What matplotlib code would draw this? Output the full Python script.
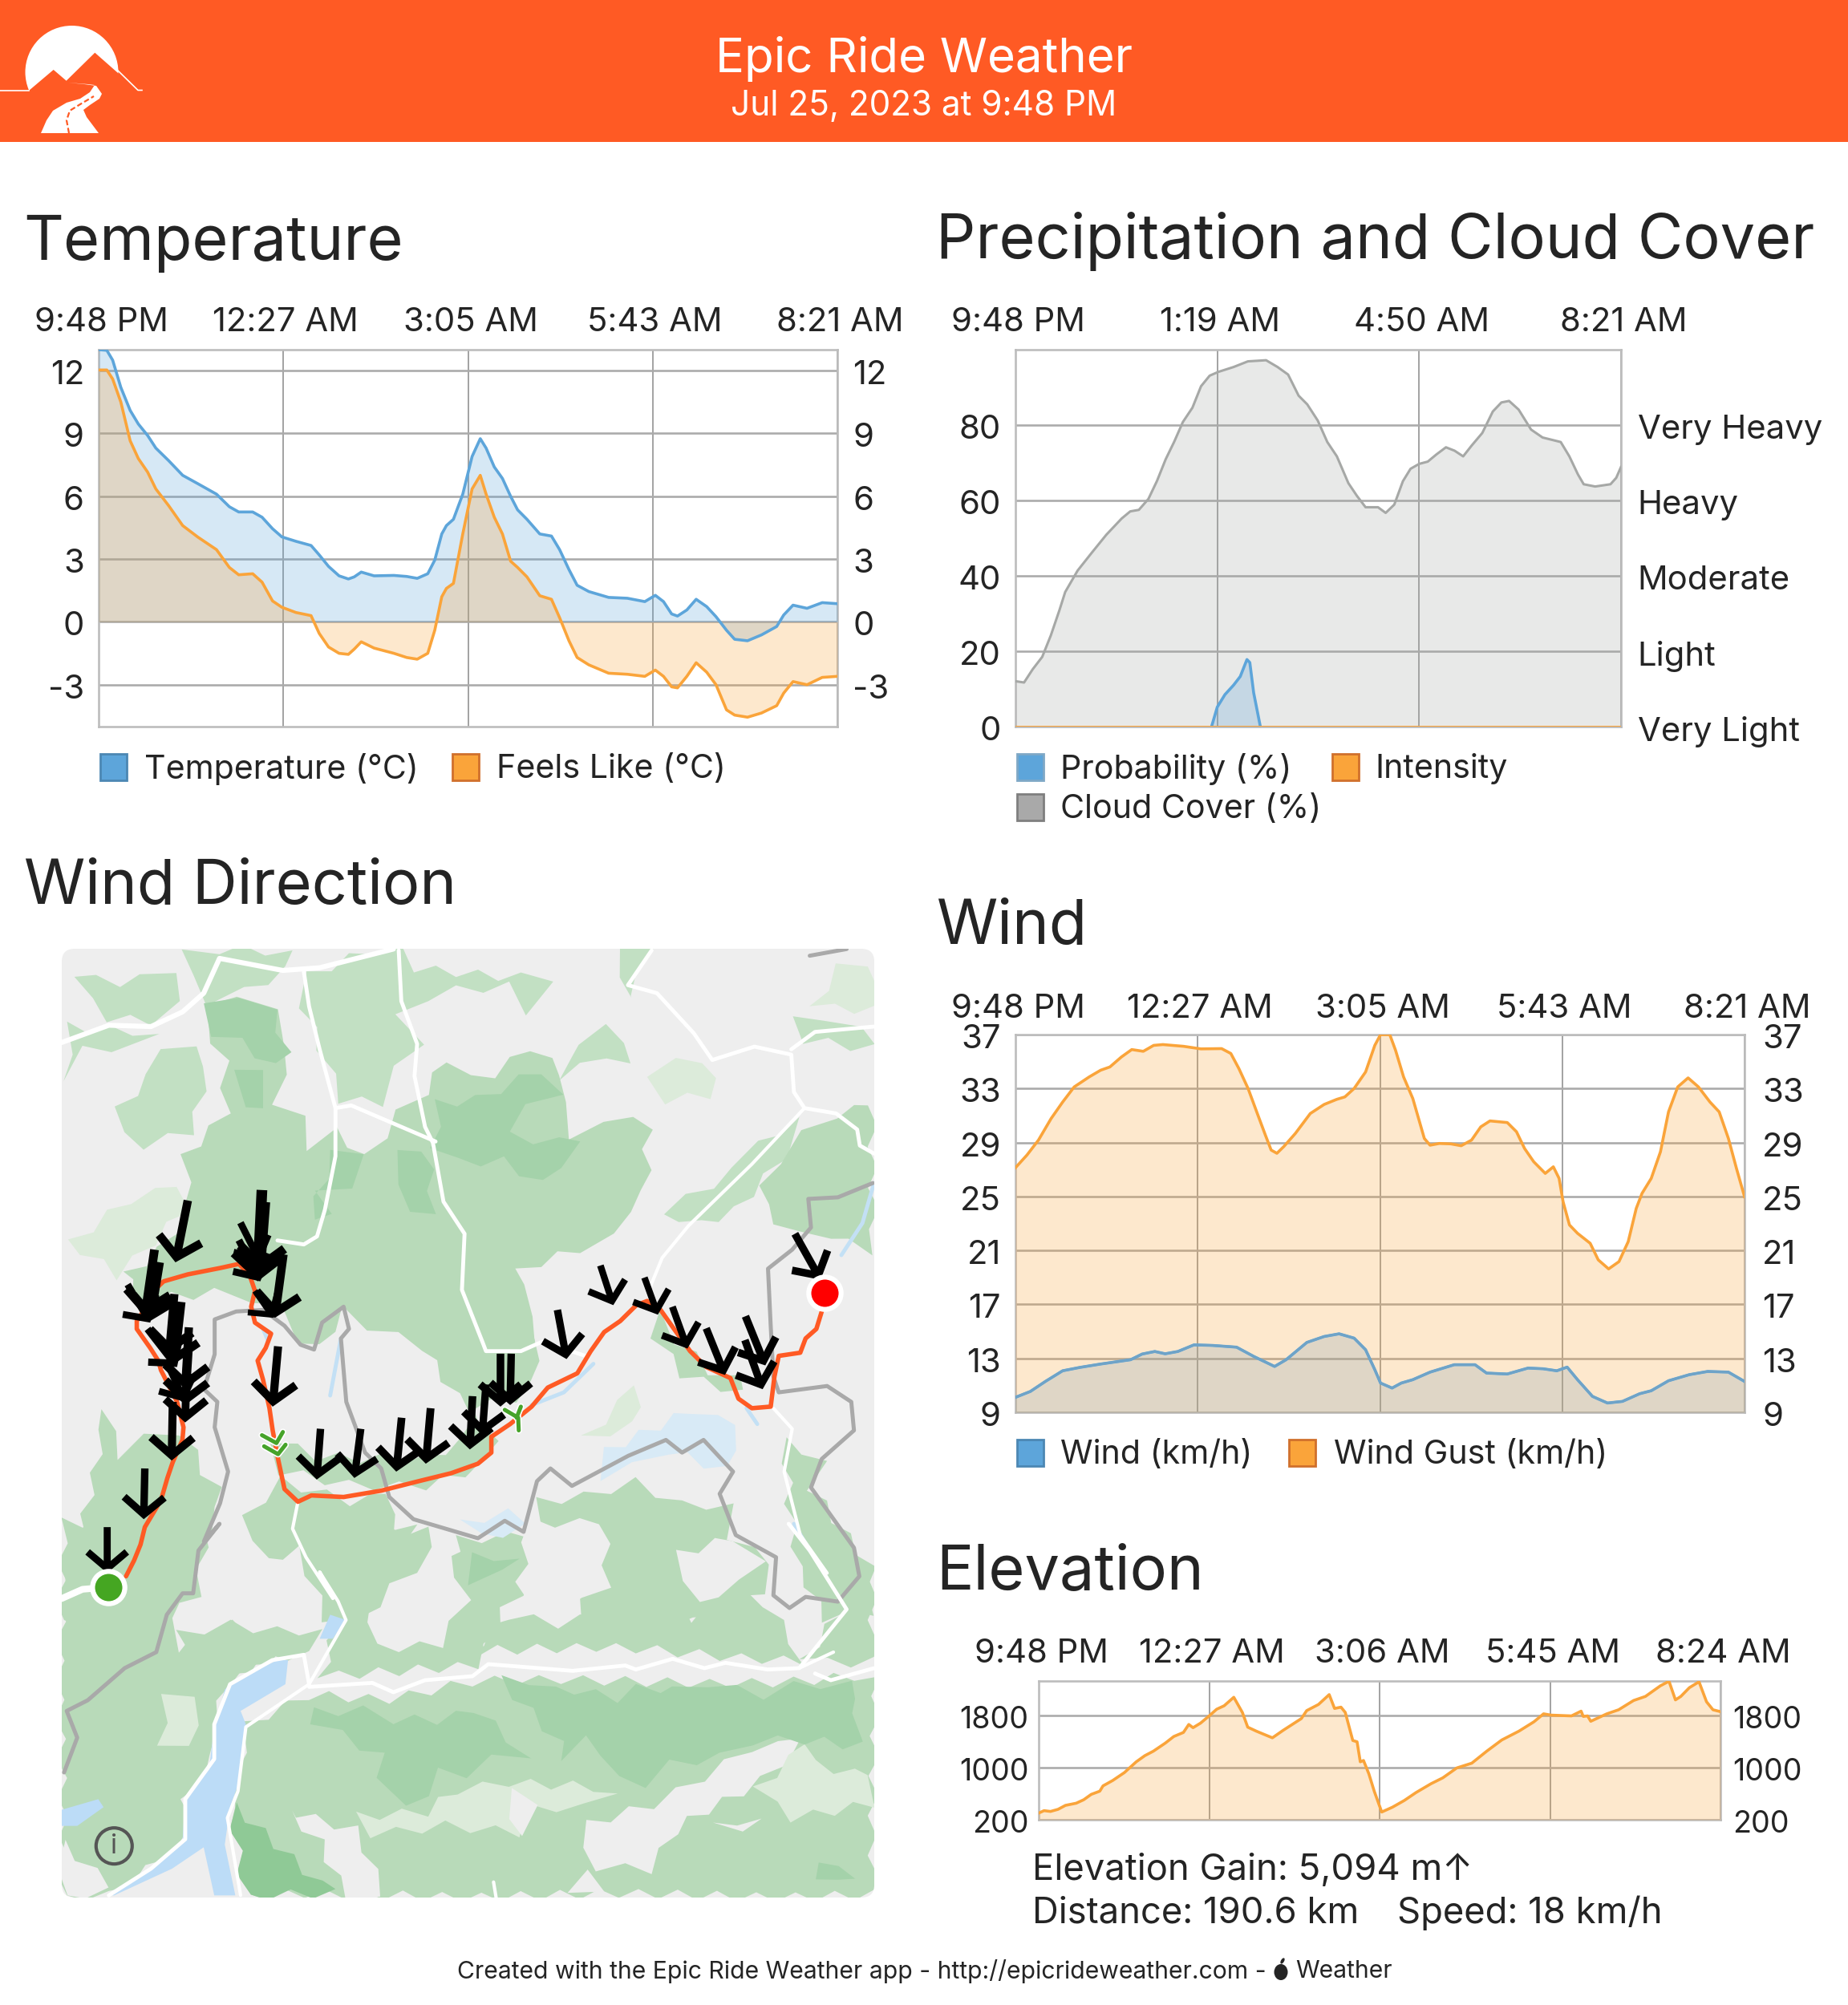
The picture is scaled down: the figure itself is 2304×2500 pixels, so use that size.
import math
import matplotlib
matplotlib.use("Agg")
import matplotlib.pyplot as plt
from matplotlib.patches import Polygon, Rectangle, Circle, Ellipse, FancyBboxPatch
from matplotlib.textpath import TextPath
from matplotlib.font_manager import FontProperties
from matplotlib.transforms import ScaledTranslation

W, H = 2304, 2500
FONT = ['Inter', 'DejaVu Sans']
plt.rcParams['font.family'] = FONT
plt.rcParams['axes.unicode_minus'] = False
TXT = '#242424'
BLUE, ORANGE, GREY = '#5DA5DA', '#FAA43A', '#A6A8A6'

# ---------- data ----------
temp_t = [0,7,12,19,27,34,42,49,60,72,85,101,112,120,132,140,149,157,169,182,189,197,206,214,219,225,236,253,264,273,282,288,294,298,304,312,320,327,332,339,346,353,359,367,378,388,395,403,410,420,437,453,468,477,484,491,496,504,512,521,529,538,545,556,568,581,587,595,607,620,633]
temp_v = [13.0,12.97,12.5,11.2,10.1,9.45,8.9,8.3,7.7,7.0,6.6,6.1,5.5,5.25,5.25,5.0,4.45,4.06,3.85,3.65,3.2,2.65,2.2,2.05,2.15,2.38,2.2,2.22,2.17,2.08,2.3,2.95,4.2,4.6,4.9,6.1,7.9,8.75,8.3,7.4,6.85,6.0,5.35,4.9,4.2,4.1,3.45,2.5,1.75,1.45,1.17,1.13,0.97,1.27,0.97,0.38,0.28,0.57,1.08,0.73,0.25,-0.4,-0.83,-0.9,-0.62,-0.22,0.33,0.8,0.65,0.92,0.87]
feels_v = [12.03,12.03,11.6,10.5,8.65,7.8,7.15,6.35,5.55,4.6,4.05,3.45,2.6,2.25,2.3,1.9,1.0,0.7,0.45,0.3,-0.55,-1.2,-1.5,-1.55,-1.3,-0.95,-1.25,-1.5,-1.7,-1.78,-1.5,-0.4,1.2,1.6,1.84,4.2,6.35,7.0,6.1,5.0,4.2,2.9,2.6,2.15,1.25,1.08,0.2,-0.9,-1.7,-2.05,-2.45,-2.5,-2.6,-2.3,-2.6,-3.1,-3.15,-2.6,-1.95,-2.4,-3.0,-4.2,-4.45,-4.55,-4.35,-4.0,-3.4,-2.85,-3.0,-2.65,-2.6]

cloud_t = [0,9,18,28,37,46,52,65,80,95,111,120,129,139,148,157,166,175,185,194,203,212,228,243,262,274,285,296,305,316,326,336,348,357,366,379,387,396,405,413,422,431,440,450,459,468,477,488,499,508,516,526,539,551,570,579,588,594,606,622,628,633]
cloud_v = [12.05,11.7,15.2,18.5,24.2,30.9,35.7,41.4,46.2,50.9,55.2,57.1,57.5,60.4,65.2,70.9,75.6,80.8,84.6,90.3,93.1,94.1,95.4,96.9,97.2,95.4,93.4,87.8,85.5,81.2,75.5,71.7,64.6,61.2,58.2,58.2,56.7,58.9,65.1,68.4,69.7,70.3,72.2,74.1,73.2,71.7,74.6,77.9,83.6,86.0,86.4,84.1,78.8,76.7,75.5,71.7,66.9,64.3,63.7,64.3,66.0,68.9]
prob_t = [205,211,219,228,235,242,245,249,256]
prob_v = [0,5.2,8.5,11,13.3,17.8,17,9,0]
intensity_t = [0,633]
intensity_v = [0,0]

gust_t = [0,10,20,31,41,51,64,74,82,92,101,111,120,128,146,161,179,187,194,202,210,217,222,227,233,243,256,268,279,286,294,304,312,317,325,330,337,345,350,355,360,368,378,387,396,404,412,427,435,442,450,460,467,472,475.5,481,488,499,506,515,524,532,539,544,552,560,567,575,584,593,603,611,619,626,633]
gust_v = [27.13,28.07,29.18,30.78,32.0,33.12,33.86,34.36,34.6,35.34,35.89,35.76,36.2,36.26,36.13,35.94,35.96,35.6,34.48,33.0,31.15,29.55,28.44,28.2,28.7,29.67,31.15,31.82,32.2,32.38,33.0,34.23,36.2,37,37,35.84,33.86,32.26,30.78,29.3,28.8,28.93,28.9,28.76,29.18,30.16,30.6,30.48,29.8,28.56,27.57,26.71,27.2,26.34,24.6,22.89,22.27,21.53,20.3,19.63,20.17,21.65,24.12,25.23,26.34,28.31,31.27,33.12,33.79,33.12,32.0,31.27,29.3,27.08,24.98]
wind_t = [0,13,26,41,56,74,100,110,121,130,141,155,171,192,207,225,235,253,268,281,294,304,312,317,327,335,345,360,381,399,409,427,445,458,470,479,488,501,514,527,542,552,567,585,601,619,633]
wind_v = [10.11,10.55,11.29,12.08,12.33,12.58,12.9,13.32,13.51,13.34,13.51,14.0,13.96,13.83,13.14,12.4,12.9,14.18,14.62,14.82,14.5,13.64,12.16,11.17,10.8,11.17,11.42,11.98,12.53,12.53,11.91,11.84,12.28,12.23,12.08,12.35,11.42,10.18,9.69,9.81,10.38,10.6,11.34,11.79,12.03,11.98,11.29]

elev_t = [0,5,11,18,25,35,42,49,57,60,69,80,91,99,107,118,126,135,140,144,151,159,166,173,182,190,195,203,209,218,228,245,250,261,271,276,282,286,293,297,300,303,308,313,320,330,341,352,366,377,390,404,418,432,448,462,471,478,497,506,508,512,515,530,541,555,566,580,588,594,599,607,616,623,629,636]
elev_v = [302,339,327,359,420,453,506,588,637,718,800,922,1086,1180,1249,1371,1473,1535,1657,1608,1678,1788,1890,1943,2073,1841,1616,1555,1514,1453,1567,1747,1869,1963,2114,1902,1922,1841,1412,1392,1086,1106,902,637,318,392,494,616,751,841,992,1065,1249,1420,1555,1698,1820,1800,1788,1861,1780,1788,1706,1820,1882,2024,2086,2249,2318,2033,2086,2220,2310,2004,1882,1853]

ride_ticks = [0,158.25,316.5,474.75,633]
ride_labels = ['9:48 PM','12:27 AM','3:05 AM','5:43 AM','8:21 AM']
precip_ticks = [0,211,422,633]
precip_labels = ['9:48 PM','1:19 AM','4:50 AM','8:21 AM']
elev_ticks = [0,159,318,477,636]
elev_labels = ['9:48 PM','12:27 AM','3:06 AM','5:45 AM','8:24 AM']
temp_yticks = [-3,0,3,6,9,12]
precip_yticks = [0,20,40,60,80]
intensity_labels = ['Very Light','Light','Moderate','Heavy','Very Heavy']
wind_yticks = [9,13,17,21,25,29,33,37]
elev_yticks = [200,1000,1800]

# map route and arrows, in the frame of the map crop
route5 = [(145,1430),(160,1380),(172,1330),(180,1275),(210,1190),(222,1120),(232,1070),(250,1000),(252,960),(240,880),(225,830),(210,780),(205,750),(190,710),(165,650),(165,625),(175,600),(190,540),(215,500),(260,478),(320,458),(355,445),(375,480),(385,530),(378,580),(385,630),(415,665),(405,710),(390,750),(400,810),(412,900),(418,970),(428,1060),(440,1155),(465,1195),(490,1175),(550,1180),(620,1160),(690,1130),(750,1105),(800,1075),(825,1040),(825,990),(860,950),(900,895),(930,835),(985,790),(1010,720),(1035,660),(1065,625),(1095,575),(1115,562),(1140,590),(1165,650),(1195,720),(1225,770),(1270,805),(1285,870),(1310,900),(1345,895),(1352,800),(1360,735),(1400,725),(1410,680),(1430,650),(1440,595)]
wind_arrows5 = [((110,1275),(110,1420)),((180,1090),(178,1250)),((232,880),(230,1065)),((258,770),(255,945)),((262,645),(255,840)),((248,565),(235,760)),((235,540),(225,730)),((185,650),(240,770)),((262,700),(255,890)),((222,760),(255,880)),((198,400),(180,610)),((208,440),(190,625)),((148,510),(190,630)),((260,245),(237,440)),((398,212),(390,500)),((405,250),(395,470)),((358,315),(395,440)),((355,370),(395,500)),((438,415),(422,615)),((385,530),(420,615)),((428,705),(418,895)),((507,965),(500,1125)),((582,965),(570,1120)),((658,930),(648,1100)),((712,900),(703,1075)),((790,862),(785,1030)),((815,825),(808,985)),((842,728),(842,895)),((862,728),(860,890)),((948,590),(965,745)),((1028,450),(1052,575)),((1110,488),(1135,605)),((1162,580),(1190,712)),((1225,648),(1260,795)),((1298,610),(1335,765)),((1297,685),(1330,840)),((1390,350),(1438,495))]
start5 = (112,1465)
end5 = (1445,535)

# ---------- helpers ----------
def f5(p): return [(60+x/1.493, 1400+y/2.529) for x, y in p]
def f7(p): return [(70+x/1.522, 1175+y/3) for x, y in p]
def f8(p): return [(70+x/1.522, 1900+y/3) for x, y in p]

def jag(pts, step=24, amp=8):
    """Give a land-cover outline the toothed edge of the map's terrain tiles."""
    out = []
    k = 0
    for (x0, y0), (x1, y1) in zip(pts, pts[1:] + pts[:1]):
        d = math.hypot(x1-x0, y1-y0)
        n = max(1, int(d / step))
        nx, ny = (y1-y0)/(d or 1), (x0-x1)/(d or 1)
        for i in range(n):
            k += 1
            a = amp * (0.35 + 0.65*abs(math.sin(k*1.37))) * (1 if k % 2 else -1)
            u = i / n
            out.append((x0+(x1-x0)*u+nx*a, y0+(y1-y0)*u+ny*a))
    return out

def fit(text, width_px):
    tp = TextPath((0, 0), text, size=100, prop=FontProperties(family=FONT))
    return 100 * width_px / tp.get_extents().width * 0.72

fig = plt.figure(figsize=(W/100, H/100), dpi=100, facecolor='white')

page = fig.add_axes([0, 0, 1, 1], zorder=0)
page.set_xlim(0, W); page.set_ylim(H, 0); page.axis('off')

FS_TITLE = fit('Temperature', 466)
FS_AXIS = fit('9:48 PM', 161)
FS_LEG = fit('Temperature (°C)', 336)
FS_INFO = fit('Distance: 190.6 km', 400)
FS_FOOT = fit('Created with the Epic Ride Weather app - http://epicrideweather.com -', 1005)

# header
page.add_patch(Rectangle((0, 0), W, 177, fc='#FF5A24', ec='none'))
page.text(1152, 73, 'Epic Ride Weather', color='white', ha='center', va='center', fontsize=fit('Epic Ride Weather', 514))
page.text(1152, 133, 'Jul 25, 2023 at 9:48 PM', color='white', ha='center', va='center', fontsize=fit('Jul 25, 2023 at 9:48 PM', 476))
# logo
page.add_patch(Circle((89.5, 90), 58, fc='white', ec='none'))
page.add_patch(Polygon([(0,113.5),(36,113),(66.7,87),(82.7,100.7),(118.3,65.7),(172,113),(172,176),(0,176)], fc='#FF5A24', ec='none'))
page.plot([0,36],[112.5,112.5], color='white', lw=1.2)
page.plot([147,172,177],[88,112.5,112.5], color='white', lw=1.2)
page.add_patch(Polygon([(51,166),(58,150),(66,138),(83,128),(100,123),(112,115),(118,106),(110,105),(85,103),(105,105),(120,107),(127,117),(124,123),(112,131),(104,137),(108,146),(123,166)], fc='white', ec='none'))
page.plot([86,83,87,100,117],[166,150,138,130,120], color='#FF5A24', lw=1.6, ls=(0,(3,1.5)))

# section titles
for s, x, y in [('Temperature',29,304),('Precipitation and Cloud Cover',1167,301),('Wind Direction',30,1106),('Wind',1167,1156),('Elevation',1167,1961)]:
    page.text(x, y, s, fontsize=FS_TITLE, color=TXT, ha='left', va='center')

def chart(l, t, r, b, xlim, ylim, xticks, xlabels, yticks, rlabels=None, ypadl=13, ypadr=14, xpad=10.5, ysize=None):
    ysize = ysize or FS_AXIS
    ax = fig.add_axes([l/W, 1-b/H, (r-l)/W, (b-t)/H], zorder=2)
    ax.set_xlim(*xlim); ax.set_ylim(*ylim)
    ax.set_xticks(xticks); ax.set_xticklabels(xlabels)
    ax.set_yticks(yticks)
    ax.tick_params(axis='x', which='both', bottom=False, top=True, labelbottom=False, labeltop=True, length=0, pad=xpad, labelsize=FS_AXIS, labelcolor=TXT)
    ax.tick_params(axis='y', length=0, pad=ypadl, labelsize=ysize, labelcolor=TXT)
    ax.grid(axis='y', color='#ababab', lw=1.9, zorder=0)
    ax.grid(axis='x', color='#929292', lw=1.2, zorder=0)
    ax.set_axisbelow(True)
    for sp in ax.spines.values():
        sp.set_color('#bdbdbd'); sp.set_linewidth(1.9); sp.set_zorder(1)
    rx = ax.twinx()
    rx.set_ylim(*ylim); rx.set_yticks(yticks)
    if rlabels: rx.set_yticklabels(rlabels)
    rx.tick_params(axis='y', length=0, pad=ypadr, labelsize=ysize, labelcolor=TXT)
    for sp in rx.spines.values():
        sp.set_visible(False)
    down = ScaledTranslation(0, -2/100, fig.dpi_scale_trans)
    for lab in ax.get_yticklabels() + rx.get_yticklabels():
        lab.set_transform(lab.get_transform() + down)
    right = ScaledTranslation(3/100, 0, fig.dpi_scale_trans)
    for lab in ax.get_xticklabels():
        lab.set_transform(lab.get_transform() + right)
    return ax

def series(ax, t, v, base, col, lw=2.6, alpha=0.25):
    ax.fill_between(t, v, base, color=col, alpha=alpha, lw=0, zorder=2)
    ax.plot(t, v, color=col, lw=lw, zorder=3, solid_joinstyle='round')

def legend(entries):
    for s, col, edge, x, y, tx in entries:
        page.add_patch(Rectangle((x+1.5, y+1.5), 33, 33, fc=col, ec=edge, lw=2))
        page.text(tx, y+21, s, fontsize=FS_LEG, color=TXT, ha='left', va='center')

# temperature
ax = chart(123, 436, 1044, 906, (0,633), (-5,13), ride_ticks, ride_labels, temp_yticks)
series(ax, temp_t, temp_v, 0, BLUE)
series(ax, temp_t, feels_v, 0, ORANGE)
legend([('Temperature (°C)', BLUE, '#4C87B3', 123, 938, 180), ('Feels Like (°C)', ORANGE, '#D0702C', 562, 938, 619)])

# precipitation
ax = chart(1266, 436, 2021, 906, (0,633), (0,100), precip_ticks, precip_labels, precip_yticks, intensity_labels, ypadr=15, ysize=FS_AXIS)
series(ax, cloud_t, cloud_v, 0, GREY, lw=2.2)
series(ax, prob_t, prob_v, 0, BLUE)
ax.plot(intensity_t, intensity_v, color=ORANGE, lw=2.2, zorder=4)
legend([('Probability (%)', BLUE, '#7FA8C6', 1266, 938, 1322), ('Intensity', ORANGE, '#D0702C', 1659, 938, 1714), ('Cloud Cover (%)', '#A9A9A9', '#7F7F7F', 1266, 988, 1322)])

# wind
ax = chart(1266, 1290, 2175, 1761, (0,633), (9,37), ride_ticks, ride_labels, wind_yticks, ypadr=16, xpad=9.5)
series(ax, wind_t, wind_v, 9, '#5DA5DA')
series(ax, gust_t, gust_v, 9, ORANGE)
ax.plot(wind_t, wind_v, color='#6FA3C7', lw=2.2, zorder=4)
legend([('Wind (km/h)', BLUE, '#4C87B3', 1266, 1793, 1322), ('Wind Gust (km/h)', ORANGE, '#D0702C', 1605, 1793, 1663)])

# elevation
ax = chart(1295, 2096, 2145, 2269, (0,636), (200,2322), elev_ticks, elev_labels, elev_yticks, ypadl=9, ypadr=11, xpad=11, ysize=FS_AXIS*0.9)
series(ax, elev_t, elev_v, 200, ORANGE, lw=2.6)

page.text(1287, 2332, 'Elevation Gain: 5,094 m↑', fontsize=FS_INFO, color=TXT, ha='left', va='center')
page.text(1287, 2385, 'Distance: 190.6 km', fontsize=FS_INFO, color=TXT, ha='left', va='center')
page.text(1742, 2385, 'Speed: 18 km/h', fontsize=FS_INFO, color=TXT, ha='left', va='center')

# footer
page.text(570, 2458, 'Created with the Epic Ride Weather app - http://epicrideweather.com -', fontsize=FS_FOOT, color=TXT, ha='left', va='center')
page.add_patch(Ellipse((1597, 2459), 17, 20, fc=TXT, ec='none'))
page.add_patch(Ellipse((1599, 2445), 4, 8, angle=30, fc=TXT, ec='none'))
page.text(1615, 2458, 'Weather', fontsize=FS_FOOT, color=TXT, ha='left', va='center')

# ---------- map ----------
m = fig.add_axes([77/W, 1-2366/H, (1090-77)/W, (2366-1183)/H], zorder=2)
m.set_xlim(77, 1090); m.set_ylim(2366, 1183); m.axis('off')
clipbox = FancyBboxPatch((77+16, 1183+16), 1013-32, 1183-32, boxstyle='round,pad=16', fc='#EEEEEE', ec='none', transform=m.transData)
m.add_patch(clipbox)

MID, LIGHT, PALE, DARK, DEEP = '#B8DAB9', '#C2E0C3', '#DCEBDA', '#A4D2AA', '#8FC996'
LAND = '#EEEEEE'
WATER = '#BCDCF7'
SNOW = '#D8EAF6'

polys = [
 # upper light patches
 (f7([(40,150),(80,110),(130,180),(160,100),(220,120),(240,240),(180,300),(100,290),(60,220)]), LIGHT),
 (f7([(240,50),(310,30),(440,30),(440,110),(360,190),(290,230),(250,130)]), LIGHT),
 (f7([(480,130),(600,25),(650,25),(680,90),(880,130),(950,160),(900,260),(860,160),(760,170),(700,200),(650,260),(690,370),(650,470),(620,600),(540,600),(500,400),(470,250)]), LIGHT),
 (f7([(20,320),(100,330),(190,330),(150,400),(60,400),(20,520)]), LIGHT),
 (f7([(120,630),(180,500),(200,380),(260,400),(290,470),(270,640),(260,710),(170,760),(120,710)]), LIGHT),
 (f7([(1070,30),(1140,30),(1090,120),(1110,270),(1080,210),(1075,130)]), LIGHT),
 (f7([(1400,300),(1460,280),(1520,330),(1552,400),(1420,370),(1400,350)]), LIGHT),
 (f7([(1340,760),(1400,660),(1410,720),(1350,880),(1290,1010),(1220,1060),(1150,1000),(1200,960),(1290,860)]), LIGHT),
 (f7([(1000,400),(1050,300),(1085,470),(1040,420),(960,520),(980,400)]), LIGHT),
 (f7([(30,1130),(140,960),(240,910),(250,1000),(120,1250),(50,1150)]), PALE),
 (f7([(1130,520),(1180,420),(1260,520),(1240,570),(1160,600)]), PALE),
 (f7([(1440,250),(1480,100),(1550,90),(1552,260)]), PALE),
 # big forest
 (f7([(135,1250),(200,1150),(250,1000),(240,800),(320,640),(320,450),(285,290),(345,195),(410,260),(440,390),(415,590),(465,650),(470,760),(530,700),(590,800),(650,640),(700,560),(745,440),(790,520),(830,500),(905,395),(965,500),(960,600),(970,715),(1040,680),(1105,640),(1125,700),(1120,850),(1115,940),(1080,1000),(1060,1100),(990,1140),(880,1220),(880,1290),(915,1400),(915,1500)]) +
  f5([(915,670),(905,830),(870,870),(790,900),(760,860),(700,700),(600,640),(555,585),(500,715),(470,690),(430,590),(380,560),(310,540),(150,560),(150,480)]), MID),
 (f7([(1345,920),(1370,820),(1420,720),(1480,640),(1552,610),(1552,1150),(1500,1120),(1470,1085),(1410,1090),(1370,1040),(1345,980)]), MID),
 # forest shading
 (f7([(285,250),(350,195),(410,260),(440,400),(410,470),(350,380),(300,350)]), DARK),
 (f7([(720,610),(800,590),(880,510),(930,480),(960,560),(900,620),(860,720),(1000,760),(950,830),(920,900),(850,810),(760,820),(720,770)]), DARK),
 (f7([(340,500),(400,480),(390,600),(350,620)]), DARK),
 (f7([(520,800),(590,800),(560,900),(500,920),(520,1000),(480,1030)]), DARK),
 (f7([(650,800),(700,780),(720,1000),(660,1010)]), DARK),
 # middle zone
 (f5([(180,1000),(250,980),(290,1100),(315,1150),(320,1220),(280,1350),(240,1500),(220,1568),(25,1568),(25,1440),(60,1300),(90,1040),(110,900),(125,1050)]), MID),
 (f5([(400,1000),(430,1100),(560,1140),(700,1140),(810,1080),(830,1010),(790,860),(770,1000),(700,1060),(500,1060),(420,1000)]), MID),
 (f5([(370,1250),(430,1130),(560,1190),(640,1170),(640,1300),(700,1280),(720,1350),(640,1460),(580,1568),(520,1568),(470,1350),(400,1380)]), MID),
 (f5([(760,1320),(900,1300),(930,1400),(860,1470),(800,1460)]), MID),
 (f5([(1130,600),(1170,690),(1230,780),(1280,800),(1290,860),(1180,800),(1130,680)]), MID),
 (f5([(910,1200),(1000,1180),(1090,1130),(1180,1200),(1270,1200),(1270,1300),(1350,1400),(1330,1470),(1200,1568),(1000,1568),(960,1450),(900,1400)]), MID),
 (f5([(1370,1010),(1440,1060),(1420,1150),(1490,1300),(1535,1400),(1535,1540),(1450,1568),(1400,1400),(1380,1200)]), MID),
 (f5([(1000,1000),(1100,830),(1090,960)]), PALE),
 # lower map
 (f8([(10,0),(290,0),(270,260),(210,360),(230,470),(330,380),(440,470),(400,510),(330,590),(300,750),(300,880),(245,1030),(245,1180),(100,1390),(10,1390)]), MID),
 (f8([(230,420),(330,380),(420,400),(500,390),(480,500),(400,500),(330,580),(260,530)]), MID),
 (f8([(460,0),(680,0),(660,170),(590,260),(610,470),(730,460),(780,290),(750,100),(920,90),(940,130),(850,320),(800,520),(500,580),(540,300),(500,180)]), MID),
 (f8([(780,500),(860,340),(950,370),(1040,330),(1080,100),(1120,30),(1270,30),(1270,60),(1180,110),(1150,220),(1200,350),(1300,250),(1350,300),(1420,510),(1100,470),(800,470)]), MID),
 (f8([(1420,520),(1490,320),(1552,200),(1552,520)]), MID),
 (f8([(360,760),(480,640),(630,650),(790,590),(1000,590),(1400,590),(1552,570),(1552,1390),(360,1390),(335,1060),(350,950)]), MID),
 (f8([(1010,1130),(1130,1050),(1180,1000),(1270,890),(1320,830),(1420,820),(1340,960),(1300,1000),(1200,1100),(1170,1150),(1130,1290),(1030,1290),(990,1200)]), LAND),
 (f8([(440,1090),(500,1190),(550,1390),(620,1390),(600,1300),(570,1150),(450,1080)]), LAND),
 (f8([(570,1100),(700,1080),(760,990),(860,960),(1060,990),(1000,1060),(900,1050),(880,1150),(740,1130),(600,1170)]), PALE),
 (f8([(860,1010),(920,1060),(890,1150),(850,1100)]), LAND),
 (f8([(1250,1140),(1330,1090),(1300,1170)]), LAND),
 (f8([(1330,1000),(1430,820),(1440,900),(1552,940),(1552,1050),(1400,1100)]), PALE),
 (f8([(1000,1310),(1040,1390),(980,1390)]), LAND),
 (f8([(200,660),(270,650),(250,850),(200,830)]), PALE),
 (f8([(10,1200),(70,1300),(100,1380),(10,1390)]), LAND),
 (f8([(900,0),(1040,0),(1050,230),(1000,300),(900,340),(880,220)]), LAND),
 (f8([(1180,120),(1290,50),(1340,130),(1300,230),(1210,300)]), LAND),
 (f8([(845,590),(900,590),(950,630),(985,620),(1060,650),(1100,610),(1150,610),(1170,620),(1240,590),(1290,620),(1340,640),(1400,610),(1500,600),(1520,660),(1500,720),(1530,830),(1420,810),(1320,820),(1260,880),(1170,900),(1120,970),(1060,950),(1040,850),(1010,800),(970,880),(960,820),(930,760),(900,700)]), DARK),
 (f8([(490,710),(580,700),(640,730),(720,730),(800,690),(860,800),(900,860),(830,880),(780,930),(730,920),(700,1000),(660,1060),(620,950),(620,870),(540,790),(490,750)]), DARK),
 (f8([(335,1060),(530,1390),(360,1390)]), DEEP),
 (f8([(790,130),(870,120),(850,190),(790,230)]), DARK),
 (f8([(1450,1290),(1490,1270),(1510,1310),(1480,1350),(1450,1330)]), DARK),
 # snow and water
 (f5([(1040,1040),(1200,900),(1290,960),(1260,1100),(1150,1030),(1090,1080),(1040,1130)]), SNOW),
 (f5([(770,1270),(850,1230),(890,1280),(800,1310)]), SNOW),
 (f8([(335,590),(420,510),(440,510),(435,600),(350,700),(360,750),(350,950),(330,1060),(320,1200),(340,1390),(300,1390),(280,1210),(220,1290),(110,1390),(100,1390),(180,1290),(240,1180),(245,1020),(290,920),(300,760),(320,620)]), WATER),
 (f8([(520,340),(550,360),(525,430),(500,430)]), WATER),
 (f8([(10,1070),(80,1030),(90,1060),(40,1130),(10,1130)]), WATER),
]
for pts, col in polys:
    outline = pts if col == WATER else jag(pts)
    m.add_patch(Polygon(outline, closed=True, fc=col, ec='none', zorder=2))

def line(pts, col, lw, z):
    xs, ys = zip(*pts)
    return m.plot(xs, ys, color=col, lw=lw, zorder=z, solid_joinstyle='round', solid_capstyle='round')

# thin water
for pts in [f7([(1552,900),(1530,1050),(1490,1170)]), f5([(900,890),(960,850),(1015,760)]), f5([(400,650),(410,690)]), f5([(545,680),(525,860)]), f5([(1300,900),(1320,950)]),
            f8([(1400,0),(1430,100)])]:
    line(pts, '#C3E0F5', 3.5, 3)

# borders
borders = [
 f8([(15,930),(40,800),(20,700),(60,660),(130,540),(190,480),(210,340),(240,260),(260,260),(270,100),(310,0)]) +
 f5([(290,1320),(320,1200),(335,1100),(310,960),(315,880),(290,840),(310,730),(310,620),(350,595),(400,590),(440,640),(470,700),(495,715),(510,630),(550,580),(560,650),(545,680),(555,880),(590,1040),(620,1090),(635,1180),(680,1250),(760,1290),(800,1310),(850,1255),(885,1290),(910,1130),(935,1090),(975,1145),(1080,1050),(1150,1000),(1180,1040),(1220,1000),(1275,1100),(1250,1170),(1280,1300),(1355,1370),(1350,1490),(1380,1530),(1410,1495),(1470,1510),(1510,1430),(1500,1340),(1420,1150),(1440,1060),(1500,970),(1495,880),(1450,830),(1360,850),(1350,800),(1345,640),(1340,460),(1385,400),(1420,330),(1415,240),(1470,235),(1535,190)]),
 f7([(1430,50),(1500,25)]),
]
for b in borders:
    line(b, '#A9A9A9', 3.6, 4)

# roads
roads = [
 (f7([(10,375),(100,310),(180,315),(240,260),(280,190),(310,60),(430,105),(500,95),(640,25)]), 4.5),
 (f7([(470,110),(480,240),(500,400),(530,620),(530,800),(510,1000),(495,1100),(470,1130),(420,1115)]), 3.5),
 (f7([(650,30),(655,220),(685,380),(680,500),(700,690),(715,750),(735,970),(775,1090),(770,1300),(810,1500)]) + f5([(815,720),(880,720),(920,690),(1000,735)]), 3.5),
 (f7([(530,620),(560,610),(720,745)]), 3.5),
 (f7([(1130,30),(1085,160),(1140,190),(1210,340),(1245,440),(1325,390),(1395,420),(1400,560),(1420,620),(1480,640),(1520,700),(1525,760),(1552,790)]), 3.5),
 (f7([(1395,400),(1440,335),(1552,315)]), 3.5),
 (f7([(1420,620),(1320,830),(1200,1060),(1150,1180),(1125,1300)]), 3),
 (f5([(465,1195),(455,1280),(480,1370),(530,1500)]) + f8([(500,180),(535,290),(550,360),(480,600),(360,760),(345,1000),(325,1100),(350,1390)]), 3),
 (f8([(480,600),(470,490),(410,510),(330,600),(300,750),(300,880),(245,1030),(245,1180),(180,1290),(100,1390)]), 3.5),
 (f8([(480,610),(600,595),(640,630),(700,585),(790,570),(820,525),(980,550),(1080,530),(1100,545),(1170,505),(1230,540),(1270,520),(1350,545),(1410,540),(1500,320),(1430,100),(1390,0)]), 3.5),
 (f8([(1410,540),(1475,480)]), 3),
 (f8([(1440,560),(1470,585),(1552,540)]), 3.5),
 (f5([(1350,900),(1385,965),(1370,1100),(1400,1300),(1450,1420)]), 3),
 (f8([(10,280),(50,245),(80,240)]), 6),
 (f8([(830,1340),(835,1400)]), 3),
]
for r, lw in roads:
    line(r, 'white', lw, 5)

# route
line(f5(route5), '#FF5A24', 4.0, 6)

# chevrons on the route
for c in [[(398,985),(425,1010),(437,975)], [(402,1020),(428,1045),(442,1015)], [(880,895),(872,930)], [(875,930),(876,970)], [(850,905),(870,925)]]:
    line(f5(c), 'white', 6, 7)
    line(f5(c), '#46A32A', 3.6, 7.5)

# wind arrows
for tail, tip in wind_arrows5:
    (x0, y0), (x1, y1) = f5([tail, tip])
    n = ((x1-x0)**2 + (y1-y0)**2) ** 0.5
    lw = 0.72 * (4.2 + 0.08*n)
    hw = 13 + 0.08*n
    m.annotate('', xy=(x1, y1), xytext=(x0, y0),
               arrowprops=dict(arrowstyle=f'->,head_length={hw*0.085:.2f},head_width={hw*0.1:.2f}', color='black', lw=lw,
                               shrinkA=0, shrinkB=0, mutation_scale=10, joinstyle='miter', capstyle='butt'), zorder=8)

# start and end markers
(sx, sy), (ex, ey) = f5([start5, end5])
m.plot([sx], [sy], 'o', ms=29, mfc='#45A622', mec='white', mew=4.5, zorder=9)
m.plot([ex], [ey], 'o', ms=29, mfc='#FF0000', mec='white', mew=4.5, zorder=9)

# info badge
(ix, iy), = f8([(110,1205)])
m.add_patch(Circle((ix, iy), 22.5, fc='none', ec='#555555', lw=3, zorder=9))
m.text(ix, iy, 'i', color='#555555', ha='center', va='center', fontsize=24, zorder=9)

for art in m.patches + m.lines:
    if art is not clipbox:
        art.set_clip_path(clipbox)

fig.savefig('out.png', dpi=100, facecolor='white')
